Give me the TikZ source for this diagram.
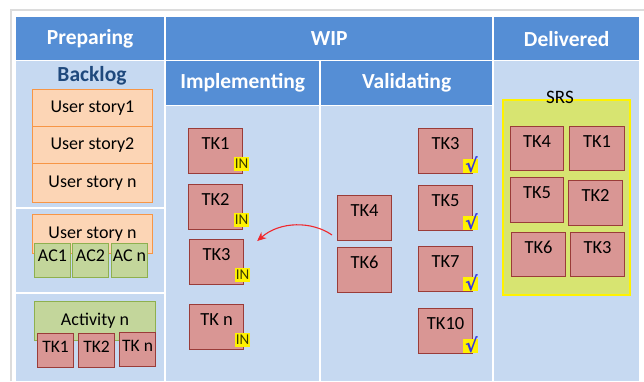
\documentclass[tikz,border=0pt]{standalone}
\usepackage{fontspec}
\setmainfont{Carlito}
\newfontfamily\symfont{DejaVu Sans}
\usetikzlibrary{arrows.meta}
\definecolor{hdrblue}{HTML}{558ED5}
\definecolor{bodyblue}{HTML}{C6D9F1}
\definecolor{peach}{HTML}{FCD5B5}
\definecolor{peachline}{HTML}{F79646}
\definecolor{greenfill}{HTML}{C3D69B}
\definecolor{greenline}{HTML}{8EB04F}
\definecolor{tkfill}{HTML}{D99694}
\definecolor{tkline}{HTML}{9A3C39}
\definecolor{srsfill}{HTML}{D7E471}
\definecolor{backlogblue}{HTML}{1F497D}
\definecolor{checkblue}{HTML}{3535E0}
\definecolor{intext}{HTML}{3A3A00}
\definecolor{arrowred}{HTML}{F0282D}
\definecolor{framegray}{HTML}{DCDCDC}
\tikzset{
  hdr/.style={fill=hdrblue, text=white, font=\fontsize{21.5}{24}\selectfont\bfseries, inner sep=0, anchor=north west},
  bodyrect/.style={fill=bodyblue, draw=none},
  story/.style={draw=peachline, fill=peach, line width=1pt, inner sep=0, anchor=north west, minimum width=120pt, font=\fontsize{18}{20}\selectfont},
  acbox/.style={draw=greenline, fill=greenfill, line width=1pt, inner sep=0, anchor=north west, minimum width=36pt, text height=18pt, text depth=16pt, font=\fontsize{18}{20}\selectfont},
  tk/.style={draw=tkline, fill=tkfill, line width=1.2pt, inner sep=0, anchor=north west, minimum width=54pt, text height=21pt, text depth=24pt, font=\fontsize{18.5}{20}\selectfont},
  tksmall/.style={draw=tkline, fill=tkfill, line width=1.2pt, inner sep=0, anchor=north west, minimum width=36pt, text height=19pt, text depth=15pt, font=\fontsize{17.5}{20}\selectfont},
  intag/.style={fill=yellow, text=intext, inner sep=0, minimum width=15pt, minimum height=14pt, anchor=south east, font=\fontsize{15}{16}\selectfont},
  cktag/.style={fill=yellow, inner sep=0, minimum width=15pt, minimum height=14pt, anchor=south east},
  ckmark/.style={text=checkblue, inner sep=0, font=\symfont\fontsize{19}{20}\selectfont\bfseries},
}
\begin{document}
\begin{tikzpicture}[x=1pt,y=-1pt]
\useasboundingbox (0,0) rectangle (644,381);
\fill[white] (0,0) rectangle (644,381);
% outer frame
\draw[framegray, line width=2pt] (11,381) -- (11,10) -- (644,10);
% headers
\node[hdr, minimum width=148pt, minimum height=43pt] (hprep) at (16,17) {Preparing};
\node[hdr, minimum width=326pt, minimum height=43pt] (hwip) at (166,17) {WIP};
\node[hdr, minimum width=145pt, minimum height=43pt] (hdel) at (494,17) {Delivered};
\node[hdr, minimum width=153pt, minimum height=44pt] (himp) at (166,61) {Implementing};
\node[hdr, minimum width=171pt, minimum height=44pt] (hval) at (321,61) {Validating};
% bodies
\fill[bodyblue] (16,61) rectangle (164,207);
\fill[bodyblue] (16,209) rectangle (164,292);
\fill[bodyblue] (16,294) rectangle (164,381);
\fill[bodyblue] (166,106) rectangle (319,381);
\fill[bodyblue] (321,106) rectangle (492,381);
\fill[bodyblue] (494,61) rectangle (639,381);
% backlog
\node[text=backlogblue, font=\fontsize{21.5}{24}\selectfont\bfseries] (backlog) at (92,76) {Backlog};
\node[story, minimum height=37pt] (us1) at (32,89) {User story1};
\node[story, minimum height=37pt] (us2) at (32,126) {User story2};
\node[story, minimum height=39pt] (usn) at (32,163) {User story n};
% user story with ACs
\node[story, minimum height=39pt] (usn2) at (32,214) {User story n};
\node[acbox] (ac1) at (34,243) {AC1};
\node[acbox] (ac2) at (72,243) {AC2};
\node[acbox] (acn) at (111,243) {AC n};
% activity
\node[draw=greenline, fill=greenfill, line width=1pt, inner sep=0, anchor=north west, minimum width=121pt, minimum height=39pt, font=\fontsize{18}{20}\selectfont] (act) at (34,301) {Activity n};
\node[tksmall] (at1) at (37,333) {TK1};
\node[tksmall] (at2) at (78,333) {TK2};
\node[tksmall] (atn) at (119,332) {TK n};
% implementing
\node[tk] (i1) at (188,128) {TK1};
\node[tk] (i2) at (188,184) {TK2};
\node[tk] (i3) at (189,239) {TK3};
\node[tk] (in) at (189,304) {TK n};
\node[intag] (ti1) at ([xshift=6pt,yshift=3pt]i1.south east) {IN};
\node[intag] (ti2) at ([xshift=6pt,yshift=3pt]i2.south east) {IN};
\node[intag] (ti3) at ([xshift=6pt,yshift=3pt]i3.south east) {IN};
\node[intag] (tin) at ([xshift=6pt,yshift=3pt]in.south east) {IN};
% middle
\node[tk] (m4) at (337,195) {TK4};
\node[tk] (m6) at (337,247) {TK6};
% validating
\node[tk] (v3) at (418,128) {TK3};
\node[tk] (v5) at (418,185) {TK5};
\node[tk] (v7) at (418,246) {TK7};
\node[tk] (v10) at (418,308) {TK10};
\foreach \v in {v3,v5,v7,v10}{
  \node[cktag] (c\v) at ([xshift=5pt,yshift=1pt]\v.south east) {};
  \node[ckmark] (m\v) at ([xshift=1pt,yshift=1pt]c\v.center) {√};
}
% arrow
\coordinate (astart) at ([xshift=-5pt,yshift=-40pt]m4.north west);
\coordinate (aend) at ([xshift=13pt,yshift=-2pt]i3.north east);
\draw[arrowred, line width=1.1pt, -{Stealth[length=9pt,width=8pt]}] (astart) .. controls (312,221) and (280,221) .. (aend);
% SRS
\node[draw=yellow, fill=srsfill, line width=1.5pt, inner sep=0, anchor=north west, minimum width=127pt, minimum height=195pt] (srs) at (502,99) {};
\node[font=\fontsize{19}{20}\selectfont, inner sep=0] (srslabel) at (560,97) {SRS};
\node[tk, minimum width=53pt, text depth=23pt] (s4) at (510,126) {TK4};
\node[tk, minimum width=55pt, text depth=23pt] (s1) at (569,126) {TK1};
\node[tk, minimum width=53pt] (s5) at (510,177) {TK5};
\node[tk] (s2) at (568,180) {TK2};
\node[tk, text depth=23pt] (s6) at (511,232) {TK6};
\node[tk, text depth=23pt] (s3) at (570,232) {TK3};
\end{tikzpicture}
\end{document}
